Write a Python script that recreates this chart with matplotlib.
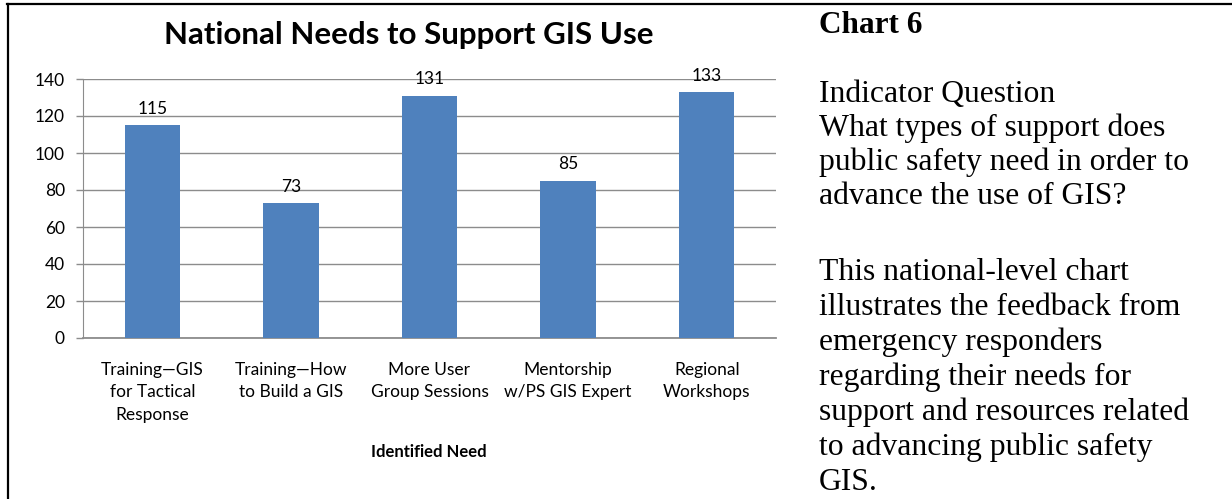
import matplotlib.pyplot as plt
from matplotlib.lines import Line2D

# data
categories = ["Training\u2014GIS\nfor Tactical\nResponse", "Training\u2014How\nto Build a GIS",
              "More User\nGroup Sessions", "Mentorship\nw/PS GIS Expert", "Regional\nWorkshops"]
values = [115, 73, 131, 85, 133]
y_ticks = [0, 20, 40, 60, 80, 100, 120, 140]

title = "National Needs to Support GIS Use"
x_title = "Identified Need"
side_head = "Chart 6"
side_lines_1 = ["Indicator Question", "What types of support does",
                "public safety need in order to", "advance the use of GIS?"]
side_lines_2 = ["This national-level chart", "illustrates the feedback from",
                "emergency responders", "regarding their needs for",
                "support and resources related", "to advancing public safety", "GIS."]

W, H = 1232, 499
fig = plt.figure(figsize=(W / 100, H / 100), dpi=100)
sans = ["Lato", "DejaVu Sans"]
serif = ["Liberation Serif", "DejaVu Serif"]

ax = fig.add_axes([83 / W, 1 - 338 / H, (776 - 83) / W, (338 - 79) / H])
x = range(len(values))
bars = ax.bar(x, values, width=0.4, color="#4F81BD", zorder=3)
for b, v in zip(bars, values):
    ax.text(b.get_x() + b.get_width() / 2, v + 4.5, str(v), ha="center", va="bottom",
            fontsize=12.5, family=sans, color="#000000")

ax.set_xlim(-0.5, len(values) - 0.5)
ax.set_ylim(0, 140)
ax.set_yticks(y_ticks)
ax.set_xticks(list(x))
ax.set_xticklabels(categories, family=sans, fontsize=12.5, linespacing=1.52)
for lbl in ax.get_yticklabels():
    lbl.set_family(sans)
    lbl.set_fontsize(12.5)
ax.tick_params(axis="y", length=5, width=1, color="#8C8C8C", pad=8)
ax.tick_params(axis="x", length=0, pad=17)
ax.grid(axis="y", color="#8C8C8C", linewidth=1, zorder=0)
for side in ["top", "right"]:
    ax.spines[side].set_visible(False)
ax.spines["left"].set_color("#8C8C8C")
ax.spines["bottom"].set_color("#8C8C8C")
ax.spines["bottom"].set_linewidth(1.3)

fig.text(429 / W, 1 - 452 / H, x_title, ha="center", va="center", fontsize=12,
         fontweight="bold", family=sans)
fig.text(409 / W, 1 - 35 / H, title, ha="center", va="center", fontsize=22.5,
         fontweight="bold", family=sans)

# side text
tx = 819 / W
fig.text(tx, 1 - 33 / H, side_head, ha="left", va="baseline", fontsize=22.5,
         fontweight="bold", family=serif)
for i, s in enumerate(side_lines_1):
    fig.text(tx, 1 - (102 + 34 * i) / H, s, ha="left", va="baseline", fontsize=22.8, family=serif)
for i, s in enumerate(side_lines_2):
    fig.text(tx, 1 - (280 + 35 * i) / H, s, ha="left", va="baseline", fontsize=22.8, family=serif)

# cell border
fig.add_artist(Line2D([7 / W, 1], [1 - 4 / H, 1 - 4 / H], color="black", linewidth=1.6))
fig.add_artist(Line2D([8 / W, 8 / W], [0, 1 - 4 / H], color="black", linewidth=1.6))

fig.savefig("out.png", dpi=100)
